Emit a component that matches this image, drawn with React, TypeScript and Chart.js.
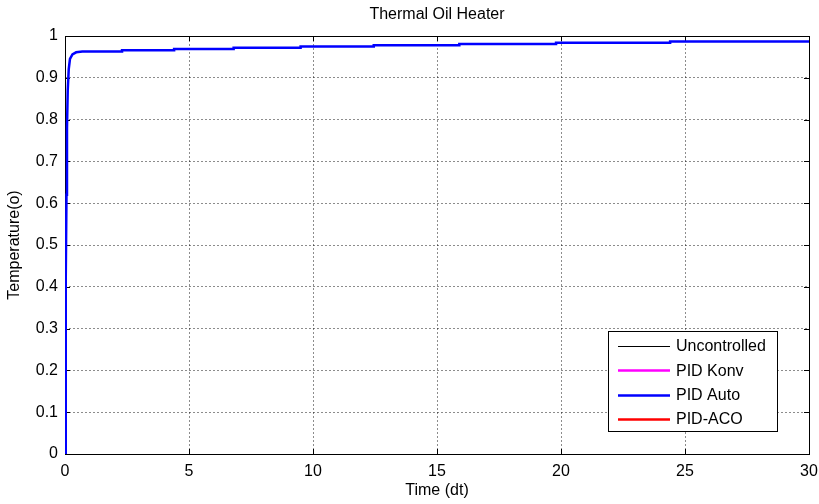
import React, { useEffect, useRef } from 'react';
import { Chart, registerables } from 'chart.js';

Chart.register(...registerables);

// Fast initial rise of the "PID Auto" response
const riseTime = [0, 0.02, 0.04, 0.06, 0.08, 0.11, 0.15, 0.2, 0.3, 0.45, 0.7];
const riseTemp = [0, 0.2, 0.42, 0.62, 0.78, 0.87, 0.92, 0.945, 0.956, 0.961, 0.963];
// Small staircase steps afterwards
const stepTime = [2.3, 4.4, 6.8, 9.5, 12.45, 15.9, 19.8, 24.4];
const stepTemp = [0.966, 0.969, 0.972, 0.975, 0.978, 0.981, 0.984, 0.987];
const endTime = 30;

const xTickValues = [0, 5, 10, 15, 20, 25, 30];
const yTickValues = [0, 0.1, 0.2, 0.3, 0.4, 0.5, 0.6, 0.7, 0.8, 0.9, 1];

const seriesLabels = ['Uncontrolled', 'PID Konv', 'PID Auto', 'PID-ACO'];
const seriesColors = ['#000000', '#ff00ff', '#0000ff', '#ff0000'];

const titleText = 'Thermal Oil Heater';
const xTitle = 'Time (dt)';
const yTitle = 'Temperature(o)';

const FONT = '"Liberation Sans", Arial, Helvetica, sans-serif';
const FS = 16;

function buildAuto() {
  const pts: { x: number; y: number }[] = [];
  for (let i = 0; i < riseTime.length; i++) pts.push({ x: riseTime[i], y: riseTemp[i] });
  let level = riseTemp[riseTemp.length - 1];
  for (let i = 0; i < stepTime.length; i++) {
    pts.push({ x: stepTime[i], y: level });
    level = stepTemp[i];
    pts.push({ x: stepTime[i], y: level });
  }
  pts.push({ x: endTime, y: level });
  return pts;
}

const framePlugin = {
  id: 'frame',
  beforeDatasetsDraw(chart: any) {
    const { ctx, chartArea: a, scales } = chart;
    ctx.save();
    ctx.strokeStyle = '#000';
    ctx.lineWidth = 1;
    ctx.beginPath();
    const tl = 5;
    xTickValues.forEach((v) => {
      const px = Math.round(scales.x.getPixelForValue(v)) + 0.5;
      ctx.moveTo(px, a.bottom);
      ctx.lineTo(px, a.bottom - tl);
      ctx.moveTo(px, a.top);
      ctx.lineTo(px, a.top + tl);
    });
    yTickValues.forEach((v) => {
      const py = Math.round(scales.y.getPixelForValue(v)) + 0.5;
      ctx.moveTo(a.left, py);
      ctx.lineTo(a.left + tl, py);
      ctx.moveTo(a.right, py);
      ctx.lineTo(a.right - tl, py);
    });
    ctx.stroke();
    ctx.strokeRect(Math.round(a.left) + 0.5, Math.round(a.top) + 0.5, Math.round(a.right - a.left), Math.round(a.bottom - a.top));
    ctx.restore();
  },
  afterDraw(chart: any) {
    const { ctx, chartArea: a } = chart;
    ctx.save();
    ctx.fillStyle = '#000';
    ctx.font = `${FS}px ${FONT}`;
    ctx.textAlign = 'center';
    ctx.textBaseline = 'middle';
    ctx.fillText(titleText, (a.left + a.right) / 2, 15);
    ctx.fillText(xTitle, (a.left + a.right) / 2, 491);
    ctx.save();
    ctx.translate(15, (a.top + a.bottom) / 2);
    ctx.rotate(-Math.PI / 2);
    ctx.fillText(yTitle, 0, 0);
    ctx.restore();

    // legend box
    const bx = 608.5, by = 331.5, bw = 169, bh = 100;
    ctx.fillStyle = '#fff';
    ctx.fillRect(bx, by, bw, bh);
    ctx.strokeStyle = '#000';
    ctx.lineWidth = 1;
    ctx.strokeRect(bx, by, bw, bh);
    const ds = chart.data.datasets;
    ctx.textAlign = 'left';
    ds.forEach((d: any, i: number) => {
      const y = 346 + i * 24.3;
      ctx.strokeStyle = d.borderColor;
      ctx.lineWidth = d.borderWidth;
      ctx.beginPath();
      ctx.moveTo(618, Math.round(y) + 0.5);
      ctx.lineTo(670, Math.round(y) + 0.5);
      ctx.stroke();
      ctx.fillStyle = '#000';
      ctx.fillText(d.label, 676, y + 1);
    });
    ctx.restore();
  },
};

export default function App() {
  const ref = useRef<HTMLCanvasElement>(null);
  useEffect(() => {
    if (!ref.current) return;
    const chart = new Chart(ref.current, {
      type: 'line',
      data: {
        datasets: [
          { label: seriesLabels[0], data: [], borderColor: seriesColors[0], borderWidth: 1, pointRadius: 0 },
          { label: seriesLabels[1], data: [], borderColor: seriesColors[1], borderWidth: 2.5, pointRadius: 0 },
          { label: seriesLabels[2], data: buildAuto(), borderColor: seriesColors[2], borderWidth: 2.5, pointRadius: 0, tension: 0 },
          { label: seriesLabels[3], data: [], borderColor: seriesColors[3], borderWidth: 2.5, pointRadius: 0 },
        ],
      },
      options: {
        animation: false,
        responsive: false,
        parsing: false as any,
        layout: { padding: { top: 36, right: 10, left: 0, bottom: 0 } },
        plugins: { legend: { display: false }, title: { display: false }, tooltip: { enabled: false } },
        scales: {
          x: {
            type: 'linear',
            min: 0,
            max: 30,
            afterFit: (s: any) => { s.height = 50; s.paddingLeft = 0; s.paddingRight = 0; },
            afterBuildTicks: (s: any) => { s.ticks = xTickValues.map((v) => ({ value: v })); },
            ticks: { color: '#000', padding: 8, font: { family: FONT, size: FS }, maxRotation: 0 },
            grid: { color: 'rgba(0,0,0,0.45)', lineWidth: 1, drawTicks: false },
            border: { display: false, dash: [2, 2] },
          },
          y: {
            type: 'linear',
            min: 0,
            max: 1,
            afterFit: (s: any) => { s.width = 65; s.paddingTop = 0; s.paddingBottom = 0; },
            afterBuildTicks: (s: any) => { s.ticks = yTickValues.map((v) => ({ value: v })); },
            ticks: { color: '#000', padding: 7, font: { family: FONT, size: FS }, callback: (v: any) => String(Math.round(v * 10) / 10) },
            grid: { color: 'rgba(0,0,0,0.45)', lineWidth: 1, drawTicks: false },
            border: { display: false, dash: [2, 2] },
          },
        },
      },
      plugins: [framePlugin],
    });
    return () => chart.destroy();
  }, []);
  return (
    <div style={{ position: 'absolute', left: 0, top: 0, width: 819, height: 504, background: '#fff' }}>
      <canvas ref={ref} width={819} height={504} style={{ display: 'block' }} />
    </div>
  );
}
